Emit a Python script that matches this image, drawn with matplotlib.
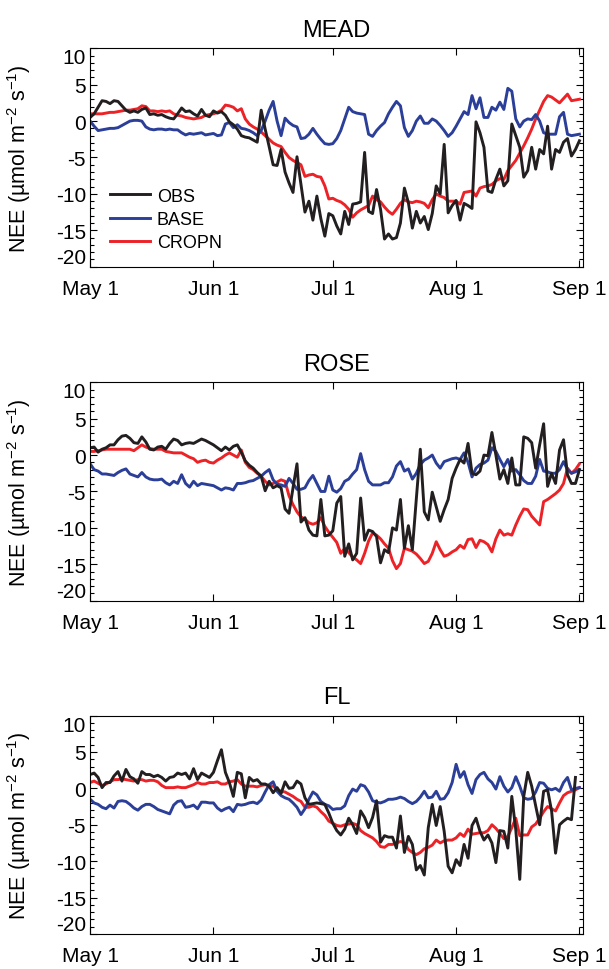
import numpy as np
import matplotlib
matplotlib.use("Agg")
import matplotlib.pyplot as plt
from matplotlib.ticker import MultipleLocator

plt.rcParams['font.family'] = ['Liberation Sans', 'DejaVu Sans']
plt.rcParams['mathtext.fontset'] = 'custom'
plt.rcParams['mathtext.rm'] = 'Liberation Sans'
plt.rcParams['mathtext.default'] = 'regular'
plt.rcParams['axes.unicode_minus'] = False

# day of year, May 1 .. Sep 1
start_doy = 121
month_ticks = [121, 152, 182, 213, 244]
month_labels = ["May 1", "Jun 1", "Jul 1", "Aug 1", "Sep 1"]

sites = ["MEAD", "ROSE", "FL"]
series_names = ["OBS", "BASE", "CROPN"]
colors = ["#231f20", "#2b3f99", "#ec2227"]

mead_obs = [0.5, 1.0, 1.9, 2.8, 2.7, 2.4, 2.8, 2.7, 2.1, 1.5,
            1.2, 1.4, 1.2, 1.6, 1.8, 0.9, 1.0, 0.8, 0.9, 0.6,
            0.4, 0.3, 1.0, 1.8, 1.3, 1.4, 1.0, 0.7, 1.6, 0.8,
            0.6, 1.4, 1.1, 1.3, 0.8, -0.1, -0.5, -1.1, -2.0, -2.2,
            -2.3, -2.6, -2.9, 1.5, -1.1, -3.5, -6.0, -6.1, -3.9, -7.0,
            -8.5, -9.8, -4.9, -8.7, -12.5, -11.0, -13.6, -10.3, -13.4, -15.8,
            -12.7, -13.0, -14.4, -15.5, -12.4, -14.2, -11.4, -11.3, -11.1, -4.3,
            -12.4, -12.7, -9.4, -12.1, -16.2, -15.5, -16.2, -16.0, -14.0, -9.2,
            -11.2, -14.7, -12.4, -14.0, -13.1, -14.9, -12.7, -8.9, -10.0, -3.2,
            -12.6, -11.6, -10.9, -13.6, -11.3, -11.6, -12.0, -0.1, -1.6, -3.6,
            -9.6, -9.8, -8.0, -6.6, -8.9, -8.2, -0.4, -2.0, -3.6, -7.7,
            -6.8, -3.6, -6.6, -3.9, -4.5, -0.7, -6.6, -3.9, -4.3, -2.9,
            -2.4, -4.8, -3.9, -2.7]
mead_base = [0.0, -0.7, -1.3, -1.2, -1.1, -1.0, -1.0, -0.9, -0.6, -0.3,
             0.0, 0.1, 0.1, 0.0, -0.8, -1.1, -1.2, -1.1, -1.1, -1.2,
             -1.1, -1.2, -1.2, -1.6, -1.9, -1.7, -1.8, -1.7, -1.6, -1.9,
             -1.8, -1.7, -2.0, -1.9, -0.4, -0.2, -0.9, -0.5, -1.0, -1.1,
             -1.3, -1.6, -2.0, -1.3, 0.0, 1.5, 2.7, 0.0, -2.0, 0.4,
             -0.2, -0.6, -0.8, -2.4, -2.3, -1.8, -1.0, -1.8, -2.5, -3.1,
             -3.2, -3.1, -2.4, -1.3, 0.3, 1.9, 1.3, 1.1, 1.0, 0.9,
             -1.8, -2.1, -1.3, -0.7, -0.2, 1.0, 1.9, 2.7, 2.1, -0.9,
             -2.1, -1.3, 0.0, 0.7, -0.3, -0.3, 0.3, 0.0, -0.6, -1.3,
             -2.1, -1.6, -0.7, 0.3, 1.3, 0.9, 3.5, 1.7, 3.2, 0.5,
             0.5, 1.9, 1.5, 2.6, 1.6, 4.5, 4.1, 0.3, -0.8, 0.0,
             0.3, 0.2, 0.9, 0.0, -1.6, -1.8, -1.8, -1.8, 0.6, 1.2,
             -1.8, -2.0, -1.9, -1.8]
mead_cropn = [1.0, 1.0, 1.0, 1.0, 1.1, 1.2, 1.2, 1.3, 1.4, 1.5,
              1.5, 1.6, 1.7, 2.1, 2.0, 1.4, 1.4, 1.3, 1.4, 1.3,
              1.4, 1.0, 0.8, 0.7, 0.5, 0.4, 0.3, 0.4, 0.5, 0.8,
              0.9, 1.0, 1.2, 1.5, 2.2, 2.1, 1.9, 1.4, 1.7, 0.3,
              -0.4, -0.8, -1.1, -1.5, -2.0, -2.5, -3.0, -3.3, -3.5, -4.3,
              -5.0, -5.4, -5.7, -6.0, -7.6, -7.4, -7.3, -7.6, -7.7, -8.9,
              -10.7, -10.6, -10.9, -11.1, -11.5, -12.1, -13.2, -12.6, -12.2, -11.9,
              -11.6, -10.3, -10.8, -11.1, -11.8, -12.4, -12.8, -12.1, -11.3, -10.8,
              -11.1, -11.2, -11.0, -11.1, -11.3, -11.9, -10.8, -10.0, -10.3, -10.5,
              -11.0, -11.0, -11.0, -11.4, -9.8, -9.7, -9.6, -10.3, -9.2, -9.0,
              -8.9, -8.7, -8.2, -7.9, -8.0, -6.8, -6.1, -5.4, -4.4, -3.4,
              -2.3, -1.1, 0.3, 1.5, 2.7, 3.5, 3.3, 2.9, 2.5, 3.1,
              3.7, 2.8, 2.9, 3.0]

rose_obs = [1.0, 1.1, 0.4, 0.8, 1.0, 1.4, 1.4, 2.1, 2.6, 2.7,
            2.3, 1.7, 1.6, 2.5, 1.8, 0.8, 0.7, 1.1, 1.2, 0.8,
            1.6, 2.2, 2.0, 1.4, 1.6, 1.7, 1.6, 1.9, 2.2, 2.0,
            1.7, 1.4, 1.0, 0.6, 1.1, 0.7, 1.2, 1.4, 0.4, -0.8,
            -1.4, -1.8, -2.4, -2.9, -4.9, -3.6, -4.5, -4.2, -4.5, -7.4,
            -8.0, -4.5, -1.2, -9.2, -8.6, -10.3, -11.0, -11.1, -6.1, -11.1,
            -11.0, -10.4, -6.6, -5.7, -13.9, -12.2, -14.4, -13.5, -5.9, -11.7,
            -10.3, -10.5, -11.2, -14.8, -13.0, -13.4, -10.0, -10.3, -6.1, -12.8,
            -9.7, -13.0, -6.0, 0.8, -7.8, -8.9, -5.1, -7.1, -9.1, -7.5,
            -6.1, -3.2, -1.8, -0.6, -1.1, 1.6, -2.5, -2.7, -2.2, 0.0,
            -0.1, 3.1, 0.0, -3.3, -2.0, -3.9, -0.4, -4.1, -4.1, 2.5,
            2.3, 1.7, -1.8, 1.4, 4.3, -4.3, -2.5, -3.9, 0.7, 2.1,
            -2.7, -3.9, -3.9, -2.0]
rose_base = [-1.2, -2.0, -2.2, -2.6, -2.6, -2.7, -2.8, -2.4, -2.1, -1.9,
             -2.6, -2.8, -3.0, -2.4, -3.0, -3.3, -3.4, -3.4, -3.3, -3.8,
             -4.1, -3.6, -3.9, -2.7, -3.9, -4.4, -3.6, -4.2, -3.9, -4.0,
             -4.1, -4.2, -4.5, -4.8, -4.5, -4.6, -4.8, -3.9, -3.9, -3.8,
             -3.6, -3.5, -3.2, -2.9, -2.4, -2.0, -3.4, -4.0, -4.1, -4.3,
             -3.2, -3.9, -4.7, -4.7, -4.5, -3.5, -2.8, -3.9, -5.0, -5.0,
             -2.9, -4.8, -5.1, -4.6, -3.6, -3.3, -2.6, -2.0, 0.2, -2.0,
             -3.6, -4.1, -4.1, -4.1, -3.8, -3.8, -3.0, -1.5, -0.9, -2.2,
             -1.9, -3.3, -2.5, -1.3, -0.7, -0.4, 0.0, -1.1, -1.8, -0.9,
             -0.7, -0.5, -0.4, -0.6, 0.3, -1.0, -3.0, -1.8, -1.3, -1.1,
             -0.7, 1.0, 0.5, -0.6, -1.6, -0.6, -2.2, -2.0, -2.7, -3.5,
             -3.9, -3.9, -2.9, -0.6, -2.2, -2.3, -2.5, -2.5, -2.0, -0.9,
             -2.0, -2.5, -2.3, -2.0]
rose_cropn = [0.5, 0.5, 0.6, 0.7, 0.8, 0.8, 0.8, 0.8, 0.8, 0.8,
              0.8, 0.6, 1.0, 1.4, 1.1, 0.9, 0.8, 0.8, 0.8, 0.5,
              0.4, 0.3, 0.3, 0.3, 0.0, -0.3, -0.5, -1.0, -0.8, -0.7,
              -1.0, -1.1, -0.7, -0.4, 0.0, 0.3, 0.0, -0.3, 0.7, -1.0,
              -1.7, -2.0, -2.5, -2.9, -3.6, -4.1, -3.9, -3.7, -3.4, -3.6,
              -5.6, -6.8, -7.8, -8.5, -8.8, -9.3, -9.5, -9.3, -8.6, -9.8,
              -10.6, -11.3, -12.0, -13.5, -12.8, -13.4, -14.0, -14.4, -14.9, -13.5,
              -11.8, -10.7, -11.0, -11.5, -12.2, -12.8, -14.5, -15.6, -14.9, -12.8,
              -13.0, -13.2, -13.6, -14.2, -14.9, -14.6, -13.5, -11.9, -13.0, -13.9,
              -13.7, -13.3, -13.0, -12.4, -12.8, -11.6, -11.5, -12.7, -11.7, -11.9,
              -12.3, -13.3, -11.5, -10.3, -11.0, -10.8, -11.0, -9.6, -8.4, -7.4,
              -7.5, -8.4, -9.0, -9.6, -6.4, -6.1, -5.7, -5.3, -4.8, -3.9,
              -1.8, -2.5, -2.0, -1.2]

fl_obs = [1.9, 2.1, 1.5, 0.1, 0.8, 0.8, 1.7, 2.3, 1.0, 2.6,
          1.6, 1.3, 0.7, 2.3, 1.9, 1.9, 1.6, 1.8, 1.5, 1.0,
          1.5, 1.6, 2.1, 1.9, 2.1, 1.3, 2.7, 1.2, 2.1, 1.8,
          1.5, 2.2, 3.8, 5.3, 2.2, 0.8, -1.1, 2.2, 2.0, -1.3,
          1.5, 1.0, 1.2, 0.6, 0.6, 0.3, -0.6, 0.1, -0.7, 0.9,
          0.0, 0.1, 1.0, 0.6, -1.3, -2.2, -2.1, -2.0, -2.1, -2.2,
          -3.4, -4.8, -5.8, -6.4, -5.6, -4.1, -5.0, -6.2, -3.1, -4.0,
          -5.4, -4.0, -1.7, -7.4, -6.5, -6.7, -6.7, -8.2, -3.8, -8.8,
          -6.6, -7.7, -11.2, -10.6, -11.9, -5.4, -2.2, -5.1, -2.5, -5.9,
          -10.7, -11.6, -9.8, -10.6, -7.7, -9.6, -5.1, -4.1, -5.9, -7.1,
          -6.4, -7.5, -10.2, -5.8, -5.9, -8.2, -1.1, -5.7, -12.5, -1.1,
          2.2, 0.3, -2.4, -5.0, -0.4, -0.2, -3.1, -8.9, -5.0, -4.5,
          -4.1, -4.3, 1.5]
fl_base = [-1.5, -2.0, -2.2, -2.6, -2.8, -2.3, -2.7, -1.8, -1.7, -1.8,
           -2.2, -2.7, -3.0, -2.5, -2.2, -2.2, -2.5, -2.9, -3.1, -3.3,
           -3.5, -2.3, -1.8, -1.7, -2.6, -2.5, -2.3, -2.8, -1.9, -1.9,
           -2.0, -2.0, -2.7, -3.1, -2.8, -2.6, -3.2, -2.2, -2.3, -2.2,
           -2.0, -1.9, -2.1, -1.6, -0.5, 0.5, 0.9, -0.4, -1.0, -1.3,
           -1.5, -2.0, -2.6, -3.6, -2.8, -1.5, -0.5, -0.9, -1.8, -2.2,
           -2.4, -2.9, -2.8, -2.8, -2.4, -1.0, -0.1, -0.4, 0.5, 0.3,
           -0.5, -1.7, -1.9, -2.0, -1.8, -1.5, -1.5, -1.4, -1.2, -1.4,
           -1.8, -2.1, -1.8, -1.2, -0.4, -1.3, -1.2, -0.4, -1.5, -1.4,
           -0.6, 0.8, 3.3, 1.5, 2.3, 0.5, -0.7, 1.2, 1.9, 2.2,
           1.3, 0.8, -0.1, 1.6, 0.3, -0.5, 0.1, 1.6, 0.3, -1.3,
           -1.5, -1.4, -0.5, 0.8, 0.7, 0.0, -0.2, 0.0, -0.4, 0.8,
           1.5, -0.2, 0.0, 0.1]
fl_cropn = [0.8, 1.0, 0.7, 0.4, 0.6, 0.9, 1.2, 1.2, 1.3, 1.2,
            1.1, 1.0, 1.2, 1.2, 1.0, 1.1, 1.1, 0.9, 0.4, 0.1,
            0.1, 0.1, 0.2, 0.1, 0.1, 0.3, 0.5, 0.8, 0.6, 0.6,
            0.8, 0.8, 0.9, 0.6, 0.6, 0.9, 1.0, 1.2, 0.6, 0.3,
            0.3, 0.3, 0.2, 0.4, 0.5, 0.4, 0.3, -0.2, -0.4, -0.5,
            -0.8, -1.1, -1.5, -1.8, -2.6, -2.6, -2.4, -2.6, -3.2, -3.7,
            -4.5, -4.8, -5.1, -5.2, -5.0, -4.9, -4.8, -5.0, -5.8, -6.2,
            -6.5, -6.8, -7.3, -8.0, -8.1, -7.7, -7.7, -7.5, -7.3, -7.5,
            -8.4, -8.8, -9.1, -8.8, -8.3, -8.1, -7.8, -7.1, -7.5, -7.2,
            -7.1, -7.1, -6.8, -6.2, -6.6, -5.6, -6.3, -6.2, -6.1, -6.1,
            -5.8, -5.0, -5.5, -6.2, -6.9, -6.6, -5.4, -4.1, -6.5, -6.4,
            -6.4, -5.3, -4.9, -4.1, -3.2, -2.5, -2.8, -3.1, -2.0, -1.0,
            -0.6, -0.4, -0.2, 0.1]

site_data = [[mead_obs, mead_base, mead_cropn],
             [rose_obs, rose_base, rose_cropn],
             [fl_obs, fl_base, fl_cropn]]

fig = plt.figure(figsize=(6.09, 9.70), dpi=100)

bottoms = [0.724, 0.3797, 0.0361]
for k in range(len(sites)):
    ax = fig.add_axes([0.148, bottoms[k], 0.809, 0.2252])
    # draw OBS last so it sits on top like the original
    for s in [2, 1, 0]:
        vals = site_data[k][s]
        days = start_doy + np.arange(len(vals))
        ax.plot(days, vals, color=colors[s], linewidth=2.1, label=series_names[s])

    ax.set_xlim(121, 244.85)
    ax.set_ylim(-20, 10)
    ax.set_xticks(month_ticks)
    ax.set_xticklabels(month_labels)
    ax.set_yticks([-20, -15, -10, -5, 0, 5, 10])
    ax.set_yticklabels(["-20", "-15", "-10", "-5", "0", "5", "10"])
    ax.yaxis.set_minor_locator(MultipleLocator(1))
    ax.tick_params(which='both', direction='in', top=True, right=True, width=0.8)
    ax.tick_params(which='major', length=5)
    ax.tick_params(which='minor', length=3)
    ax.tick_params(axis='x', labelsize=15, pad=9)
    ax.tick_params(axis='y', labelsize=15, pad=3)
    for sp in ax.spines.values():
        sp.set_linewidth(0.8)

    yt = ax.yaxis.get_major_ticks()
    yt[0].label1.set_va('bottom')
    yt[-1].label1.set_va('top')

    ax.set_title(sites[k], fontsize=17, pad=9)
    ax.set_ylabel("NEE (\u00b5mol m$^{-2}$ s$^{-1}$)", fontsize=15.5)
    ax.yaxis.set_label_coords(-0.116, 0.5)

    if k == 0:
        h, l = ax.get_legend_handles_labels()
        ax.legend(h[::-1], l[::-1], loc="lower left", bbox_to_anchor=(0.04, 0.07),
                  fontsize=13, frameon=False, handlelength=2.2, handletextpad=0.4,
                  labelspacing=0.35, borderpad=0, borderaxespad=0)

plt.savefig("out.png", dpi=100)
